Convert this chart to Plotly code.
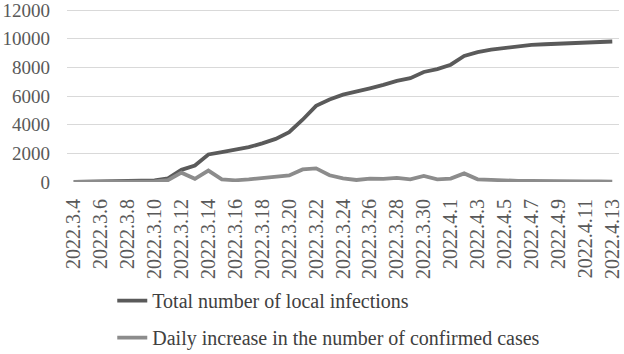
import plotly.graph_objects as go

dates = ["2022.3.%d" % d for d in range(4, 32)] + ["2022.4.%d" % d for d in range(1, 14)]

total_infections = [10, 20, 30, 40, 60, 80, 120, 250, 850, 1150,
                    1920, 2090, 2240, 2430, 2700, 3010, 3480, 4350, 5320, 5760,
                    6100, 6300, 6540, 6780, 7060, 7250, 7680, 7880, 8190, 8800,
                    9070, 9250, 9360, 9480, 9570, 9620, 9660, 9690, 9720, 9760, 9810]

daily_increase = [5, 10, 10, 15, 20, 20, 40, 130, 650, 220,
                  800, 180, 120, 180, 290, 340, 460, 880, 950, 470,
                  260, 140, 230, 220, 290, 180, 420, 180, 240, 600,
                  190, 150, 100, 80, 70, 50, 40, 30, 40, 40, 30]

tick_labels = dates[::2]
y_ticks = [0, 2000, 4000, 6000, 8000, 10000, 12000]
y_tick_text = [str(v) for v in y_ticks]

FONT = "Liberation Serif, Times New Roman, serif"

fig = go.Figure()
fig.add_trace(go.Scatter(x=dates, y=total_infections, mode="lines",
                         name="Total number of local infections",
                         legendgroup="a",
                         line=dict(color="#5a5a5a", width=3.8)))
fig.add_trace(go.Scatter(x=dates, y=daily_increase, mode="lines",
                         name="Daily increase in the number of confirmed cases",
                         legendgroup="b",
                         line=dict(color="#8c8c8c", width=3.8)))

fig.update_layout(
    width=624, height=354,
    margin=dict(l=67, r=5, t=8, b=172, autoexpand=False),
    paper_bgcolor="white", plot_bgcolor="white",
    font=dict(family=FONT, size=18, color="#595959"),
    showlegend=True,
    legend=dict(x=0.082, y=-0.57, xanchor="left", yanchor="top",
                orientation="v", tracegroupgap=8,
                font=dict(family=FONT, size=20, color="#404040"),
                bgcolor="rgba(0,0,0,0)"),
    xaxis=dict(type="category", range=[-0.5, 40.5], automargin=False,
               tickmode="array", tickvals=tick_labels, ticktext=tick_labels,
               tickangle=-90, showgrid=False, showline=False, ticks="",
               ticklabelstandoff=12,
               tickfont=dict(family=FONT, size=20, color="#595959")),
    yaxis=dict(range=[0, 12150], tickmode="array", tickvals=y_ticks,
               ticktext=y_tick_text, automargin=False, showgrid=True,
               gridcolor="#d9d9d9", gridwidth=1, zeroline=False,
               showline=False, ticks="", ticklabelstandoff=16,
               ticklabeloverflow="allow",
               tickfont=dict(family=FONT, size=19, color="#595959")),
)

fig.write_html("out.html", config={"displayModeBar": False},
               post_script="document.body.style.margin='0px';")
